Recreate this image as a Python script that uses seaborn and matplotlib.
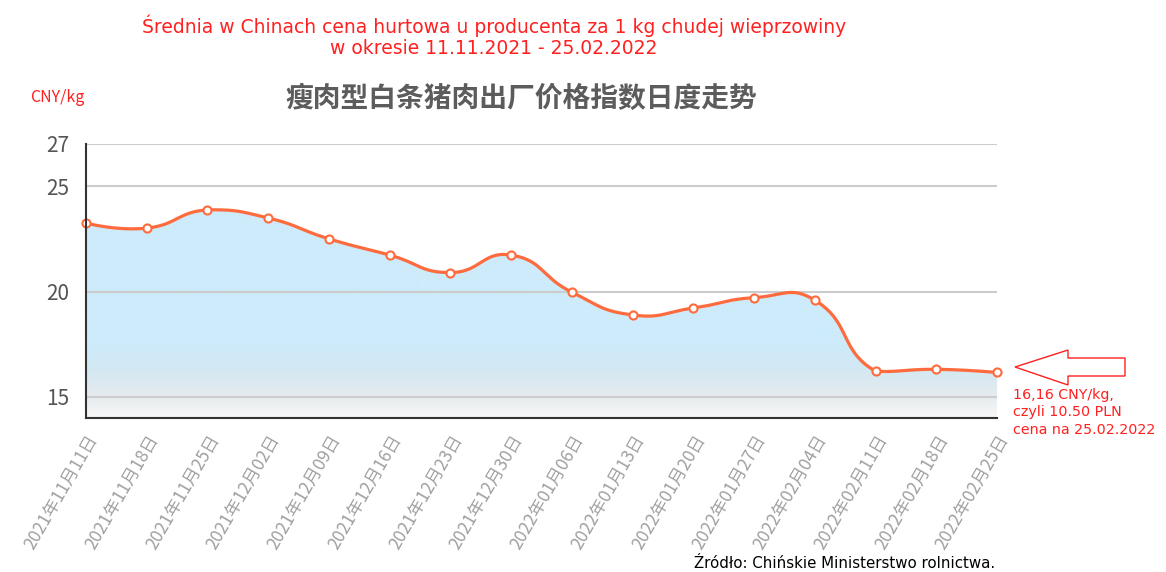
import numpy as np
import matplotlib
matplotlib.use("Agg")
import matplotlib.pyplot as plt
import seaborn as sns
from matplotlib.patches import Polygon
from matplotlib.colors import LinearSegmentedColormap

# data
dates = ["2021年11月11日", "2021年11月18日", "2021年11月25日", "2021年12月02日",
         "2021年12月09日", "2021年12月16日", "2021年12月23日", "2021年12月30日",
         "2022年01月06日", "2022年01月13日", "2022年01月20日", "2022年01月27日",
         "2022年02月04日", "2022年02月11日", "2022年02月18日", "2022年02月25日"]
prices = [23.25, 23.01, 23.88, 23.49, 22.50, 21.73, 20.90, 21.73,
          19.97, 18.89, 19.22, 19.71, 19.59, 16.22, 16.31, 16.16]
y_ticks = [14, 15, 20, 25, 27]
y_labels = ["", "15", "20", "25", "27"]

title_pl = ("Średnia w Chinach cena hurtowa u producenta za 1 kg chudej wieprzowiny\n"
            "w okresie 11.11.2021 - 25.02.2022")
title_cn = "瘦肉型白条猪肉出厂价格指数日度走势"
note = "16,16 CNY/kg,\nczyli 10.50 PLN\ncena na 25.02.2022"
source = "Źródło: Chińskie Ministerstwo rolnictwa."

LINE = "#ff6b3d"
RED = "#ff2020"


def smooth_line(xs, ys, sx, sy, smooth=0.5, n=40):
    # echarts-style bezier smoothing with bounding-box constraint
    P = np.column_stack([np.asarray(xs, float) * sx, np.asarray(ys, float) * sy])
    lo, hi = P.min(axis=0), P.max(axis=0)
    cps = []
    for i in range(len(P)):
        if i == 0 or i == len(P) - 1:
            cps.append(P[i].copy())
            continue
        v = (P[i + 1] - P[i - 1]) * smooth
        d0 = np.linalg.norm(P[i] - P[i - 1])
        d1 = np.linalg.norm(P[i + 1] - P[i])
        s = d0 + d1
        cps.append(np.clip(P[i] - v * d0 / s, lo, hi))
        cps.append(np.clip(P[i] + v * d1 / s, lo, hi))
    out = [P[0][None, :]]
    t = np.linspace(0, 1, n)[1:, None]
    for i in range(len(P) - 1):
        a, b, c, d = P[i], cps[2 * i], cps[2 * i + 1], P[i + 1]
        seg = (1 - t) ** 3 * a + 3 * (1 - t) ** 2 * t * b + 3 * (1 - t) * t ** 2 * c + t ** 3 * d
        out.append(seg)
    out = np.vstack(out)
    return out[:, 0] / sx, out[:, 1] / sy


sns.set_style("white")
plt.rcParams["font.family"] = ["Noto Sans CJK SC", "DejaVu Sans"]

fig = plt.figure(figsize=(11.66, 5.72), dpi=100)
ax = fig.add_axes([86 / 1166, 1 - 418 / 572, (997 - 86) / 1166, (418 - 144) / 572])

x = np.arange(len(prices))
sx, sy = smooth_line(x, prices, 61.0, 21.0)

# gradient area under the curve
ymin, ymax = 14, 27
cmap = LinearSegmentedColormap.from_list(
    "area", [(0.0, "#f8f8f8"), (1 / 13, "#e6ebee"), (2.3 / 13, "#d3e8f3"),
             (3.5 / 13, "#cdebfb"), (1.0, "#cdebfb")])
grad = np.linspace(0, 1, 256)[:, None]
img = ax.imshow(grad, cmap=cmap, origin="lower", aspect="auto",
                extent=[0, len(prices) - 1, ymin, ymax], zorder=0.2)
verts = np.vstack([np.column_stack([sx, sy]), [[sx[-1], ymin], [sx[0], ymin]]])
clip = Polygon(verts, closed=True, transform=ax.transData, facecolor="none", edgecolor="none")
ax.add_patch(clip)
img.set_clip_path(clip)

sns.lineplot(x=sx, y=sy, ax=ax, color=LINE, linewidth=2.3, sort=False, zorder=3)
sns.scatterplot(x=x, y=prices, ax=ax, color="white", edgecolor=LINE, s=34,
                linewidth=1.5, zorder=4, clip_on=False)

ax.set_xlim(0, len(prices) - 1)
ax.set_ylim(ymin, ymax)
ax.set_yticks(y_ticks)
ax.set_yticklabels(y_labels)
ax.set_xticks(x)
ax.set_xticklabels(dates, rotation=60, ha="right", va="top", rotation_mode="anchor")
ax.tick_params(axis="y", length=9, width=1.5, color="#333", labelsize=15,
               labelcolor="#555", pad=3)
ax.tick_params(axis="x", length=6, width=1.5, color="#333", labelsize=12.5,
               labelcolor="#a0a0a0", pad=4)
ax.grid(axis="y", color="#cccccc", linewidth=1.5)
ax.grid(axis="x", visible=False)
ax.set_axisbelow(False)
for gl in ax.get_ygridlines():
    gl.set_zorder(1)
for side in ["top", "right"]:
    ax.spines[side].set_visible(False)
for side in ["left", "bottom"]:
    ax.spines[side].set_color("#333")
    ax.spines[side].set_linewidth(1.5)
    ax.spines[side].set_zorder(5)
ax.set_xlabel("")
ax.set_ylabel("")

# texts
fig.text(494 / 1166, 1 - 36 / 572, title_pl, ha="center", va="center", color=RED,
         fontsize=13.5, family="DejaVu Sans", linespacing=1.15)
fig.text(521 / 1166, 1 - 99 / 572, title_cn, ha="center", va="center",
         color="#5c5c5c", fontsize=20, fontweight="bold")
fig.text(30 / 1166, 1 - 97 / 572, "CNY/kg", ha="left", va="center", color=RED,
         fontsize=11.5)
fig.text(1013 / 1166, 1 - 388 / 572, note, ha="left", va="top", color=RED,
         fontsize=10.3, family="DejaVu Sans", linespacing=1.3)
fig.text(995 / 1166, 1 - 564 / 572, source, ha="right", va="center", color="black",
         fontsize=10.8, family="DejaVu Sans")

# hollow arrow pointing at the last value
arrow_px = [(1015, 367), (1068, 350), (1068, 358), (1125, 358),
            (1125, 376), (1068, 376), (1068, 385)]
arrow = Polygon([(px / 1166, 1 - py / 572) for px, py in arrow_px], closed=True,
                transform=fig.transFigure, facecolor="white", edgecolor=RED,
                linewidth=1)
fig.patches.append(arrow)

fig.savefig("out.png", dpi=100)
